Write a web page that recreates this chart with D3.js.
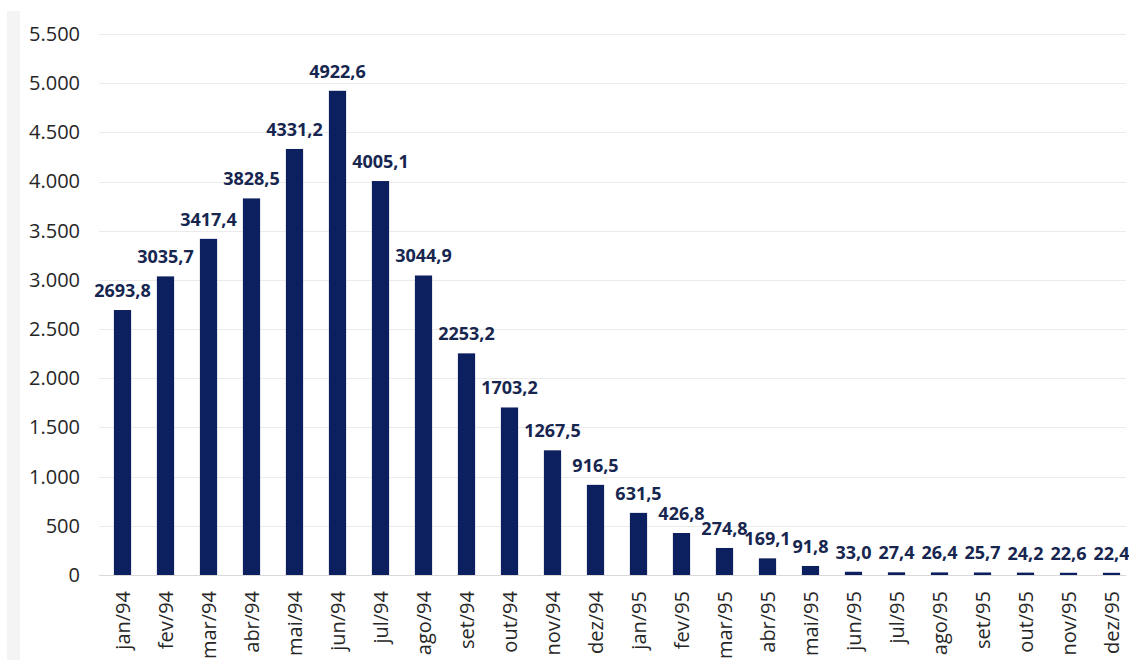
<!DOCTYPE html>
<html><head><meta charset="utf-8">
<script src="https://cdn.jsdelivr.net/npm/d3@7"></script>
<style>body{margin:0;background:#fff}svg{display:block}</style>
</head><body><svg id="c" width="1129" height="660"></svg>
<script>
const categories = ["jan/94","fev/94","mar/94","abr/94","mai/94","jun/94","jul/94","ago/94","set/94","out/94","nov/94","dez/94",
  "jan/95","fev/95","mar/95","abr/95","mai/95","jun/95","jul/95","ago/95","set/95","out/95","nov/95","dez/95"];
const values = [2693.8,3035.7,3417.4,3828.5,4331.2,4922.6,4005.1,3044.9,2253.2,1703.2,1267.5,916.5,
  631.5,426.8,274.8,169.1,91.8,33.0,27.4,26.4,25.7,24.2,22.6,22.4];
const yTicks = [0,500,1000,1500,2000,2500,3000,3500,4000,4500,5000,5500];

const svg = d3.select("#c");
const W = 1129, H = 660;
const loc = d3.formatLocale({decimal: ",", thousands: ".", grouping: [3], currency: ["", ""]});
const fmtTick = loc.format(",d");
const fmtVal = loc.format(".1f");

const x = d3.scaleBand().domain(categories).range([101, 1133]).paddingInner(0.6).paddingOuter(0.3);
const y = d3.scaleLinear().domain([0, 5500]).range([575, 34]);

// faint left stripe
svg.append("rect").attr("x", 7).attr("y", 11).attr("width", 13).attr("height", H - 11).attr("fill", "#f4f4f4");

// gridlines
svg.append("g").selectAll("line").data(yTicks).join("line")
  .attr("x1", 99).attr("x2", 1126)
  .attr("y1", d => Math.round(y(d)) + 0.5).attr("y2", d => Math.round(y(d)) + 0.5)
  .attr("stroke", d => d === 0 ? "#d9d9d9" : "#ebebeb").attr("stroke-width", 1);

// y axis labels
const yAxis = d3.axisLeft(y).tickValues(yTicks).tickFormat(fmtTick).tickSize(0).tickPadding(0);
const gy = svg.append("g").attr("transform", "translate(80,0)").call(yAxis);
gy.select(".domain").remove();
gy.selectAll("text").attr("font-family", "'Open Sans', sans-serif").attr("font-size", 20).attr("fill", "#262626");

// bars
svg.append("g").selectAll("rect").data(values).join("rect")
  .attr("x", (d, i) => x(categories[i]))
  .attr("width", x.bandwidth())
  .attr("y", d => y(d))
  .attr("height", d => y(0) - y(d))
  .attr("fill", "#0c1f5e");

// value labels
svg.append("g").selectAll("text").data(values).join("text")
  .attr("x", (d, i) => x(categories[i]) + x.bandwidth() / 2)
  .attr("y", d => y(d) - 13)
  .attr("text-anchor", "middle")
  .attr("font-family", "'Open Sans', sans-serif").attr("font-weight", 700).attr("font-size", 18)
  .attr("fill", "#17264f")
  .text(d => fmtVal(d));

// x axis labels
const xAxis = d3.axisBottom(x).tickSize(0).tickPadding(0);
const gx = svg.append("g").attr("transform", "translate(0,575)").call(xAxis);
gx.select(".domain").remove();
gx.selectAll("text")
  .attr("transform", "translate(0,16) rotate(-90)")
  .attr("x", 0).attr("y", 0).attr("dy", "0.35em")
  .attr("text-anchor", "end")
  .attr("font-family", "'Open Sans', sans-serif").attr("font-size", 20).attr("fill", "#262626");
</script>
</body></html>
